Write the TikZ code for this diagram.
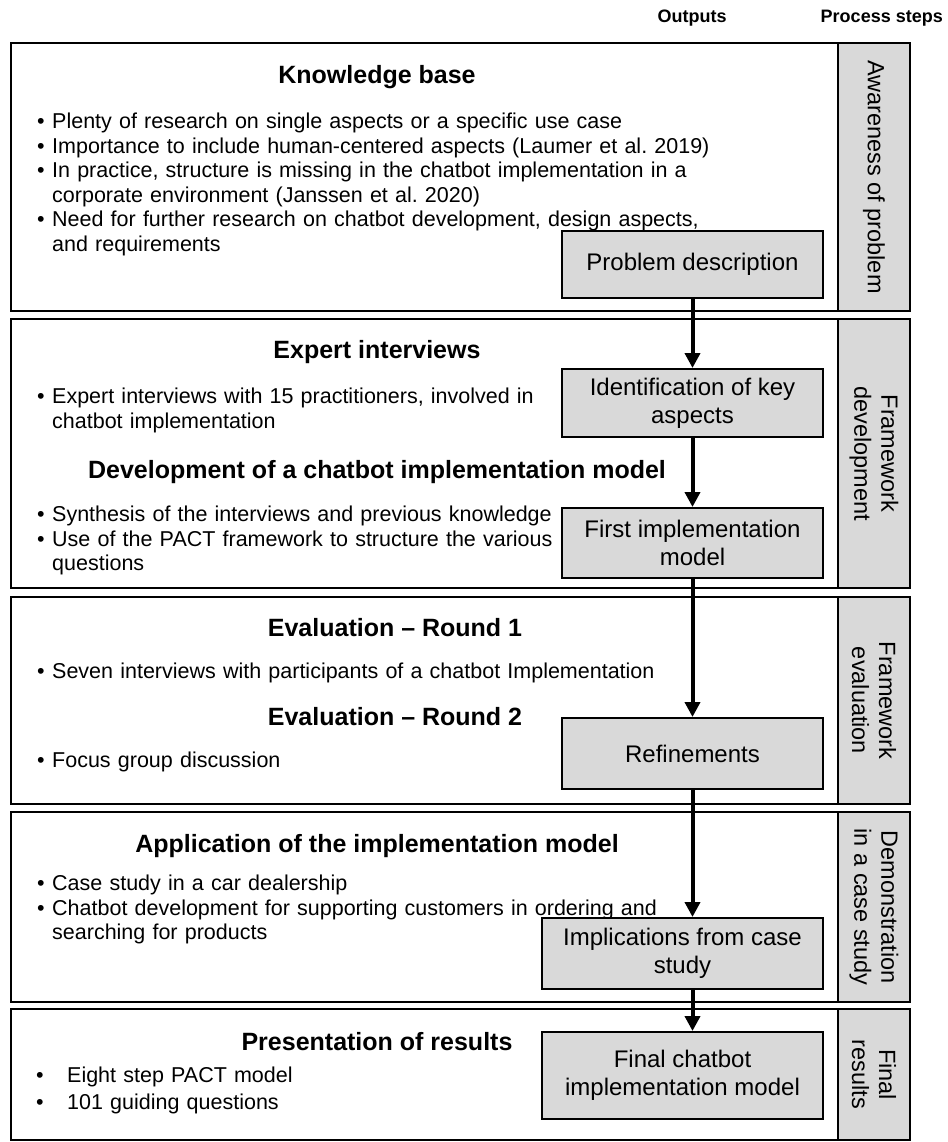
\documentclass[tikz,border=0pt]{standalone}
\usepackage{fontspec}
\setmainfont{Liberation Sans}
\usetikzlibrary{arrows.meta}
\definecolor{panelgray}{HTML}{D9D9D9}
\frenchspacing

% bullet item with hanging indent
\newlength{\bulletgap}
\newcommand{\bitem}[2][15pt]{\par\setlength{\bulletgap}{#1}\hangindent=\bulletgap\hangafter=1\noindent\makebox[\bulletgap][l]{•}\strut #2\par}

\tikzset{
  secframe/.style={draw=black, line width=2pt},
  band/.style={draw=black, line width=2pt, fill=panelgray},
  stepbox/.style={draw=black, line width=2pt, fill=panelgray, align=center, inner sep=0pt,
     font=\fontsize{24}{28}\selectfont},
  bandlabel/.style={rotate=-90, align=center, inner sep=0pt, font=\fontsize{23.5}{27}\selectfont},
  heading/.style={font=\bfseries\fontsize{25}{30}\selectfont, inner sep=0pt},
  colhead/.style={font=\bfseries\fontsize{18}{22}\selectfont, inner sep=0pt},
  bullets/.style={anchor=north west, inner sep=0pt, text width=700pt, align=left,
     font=\fontsize{21.5}{24.5}\selectfont},
  flow/.style={line width=4pt, -{Triangle[width=15pt,length=15pt]}},
}

\begin{document}
\begin{tikzpicture}[x=1pt, y=-1pt]
\useasboundingbox (0,0) rectangle (947,1142);

% column headings
\node[colhead] (hout) at (692,18) {Outputs};
\node[colhead, anchor=east] (hproc) at (943,18) {Process steps};

% section frames
\draw[secframe] (11,43) rectangle (910,311);
\draw[secframe] (11,319) rectangle (910,588);
\draw[secframe] (11,597) rectangle (910,804);
\draw[secframe] (11,812) rectangle (910,1002);
\draw[secframe] (11,1009) rectangle (910,1140);

% process-step bands
\draw[band] (838,43) rectangle (910,311);
\draw[band] (838,319) rectangle (910,588);
\draw[band] (838,597) rectangle (910,804);
\draw[band] (838,812) rectangle (910,1002);
\draw[band] (838,1009) rectangle (910,1140);

\node[bandlabel] (p1) at (874,177) {Awareness of problem};
\node[bandlabel] (p2) at (874,453.5) {Framework\\development};
\node[bandlabel] (p3) at (874,700.5) {Framework\\evaluation};
\node[bandlabel] (p4) at (874,907) {Demonstration\\in a case study};
\node[bandlabel] (p5) at (874,1074.5) {Final\\results};

% section 1
\node[heading] (t1) at (377,77) {Knowledge base};
\node[bullets] (l1) at (37,103.85) {%
  \bitem{Plenty of research on single aspects or a specific use case}%
  \bitem{Importance to include human-centered aspects (Laumer et al. 2019)}%
  \bitem{In practice, structure is missing in the chatbot implementation in a\newline corporate environment (Janssen et al. 2020)}%
  \bitem{Need for further research on chatbot development, design aspects,\newline and requirements}};

% section 2
\node[heading] (t2) at (377,352) {Expert interviews};
\node[bullets] (l2) at (37,378.85) {%
  \bitem{Expert interviews with 15 practitioners, involved in\newline chatbot implementation}};
\node[heading] (t3) at (377,472) {Development of a chatbot implementation model};
\node[bullets] (l3) at (37,496.85) {%
  \bitem{Synthesis of the interviews and previous knowledge}%
  \bitem{Use of the PACT framework to structure the various\newline questions}};

% section 3
\node[heading] (t4) at (395,628) {Evaluation – Round 1};
\node[bullets] (l4) at (37,653.85) {%
  \bitem{Seven interviews with participants of a chatbot Implementation}};
\node[heading] (t5) at (395,717) {Evaluation – Round 2};
\node[bullets] (l5) at (37,742.85) {%
  \bitem{Focus group discussion}};

% section 4
\node[heading] (t6) at (377,846) {Application of the implementation model};
\node[bullets] (l6) at (37,865.85) {%
  \bitem{Case study in a car dealership}%
  \bitem{Chatbot development for supporting customers in ordering and\newline searching for products}};

% section 5
\node[heading] (t7) at (377,1042) {Presentation of results};
\node[bullets, font=\fontsize{21.5}{27}\selectfont] (l7) at (36,1055.1) {%
  \bitem[31pt]{Eight step PACT model}%
  \bitem[31pt]{101 guiding questions}};

% output boxes
\node[stepbox, minimum width=261pt, minimum height=67pt] (pd) at (692.5,264.5) {Problem description};
\node[stepbox, minimum width=261pt, minimum height=68pt] (ik) at (692.5,403) {Identification of key\\aspects};
\node[stepbox, minimum width=261pt, minimum height=70pt] (fim) at (692.5,543) {First implementation\\model};
\node[stepbox, minimum width=261pt, minimum height=71pt] (ref) at (692.5,753.5) {Refinements};
\node[stepbox, minimum width=281pt, minimum height=71pt] (imp) at (682.5,953.5) {Implications from case\\study};
\node[stepbox, minimum width=281pt, minimum height=87pt] (fin) at (682.5,1075.5) {Final chatbot\\implementation model};

% flow between outputs
\draw[flow] (pd.south) -- (ik.north);
\draw[flow] (ik.south) -- (fim.north);
\draw[flow] (fim.south) -- (ref.north);
\draw[flow] (ref.south) -- (ref.south |- imp.north);
\draw[flow] (imp.south -| ref.south) -- (fin.north -| ref.south);
\end{tikzpicture}
\end{document}
